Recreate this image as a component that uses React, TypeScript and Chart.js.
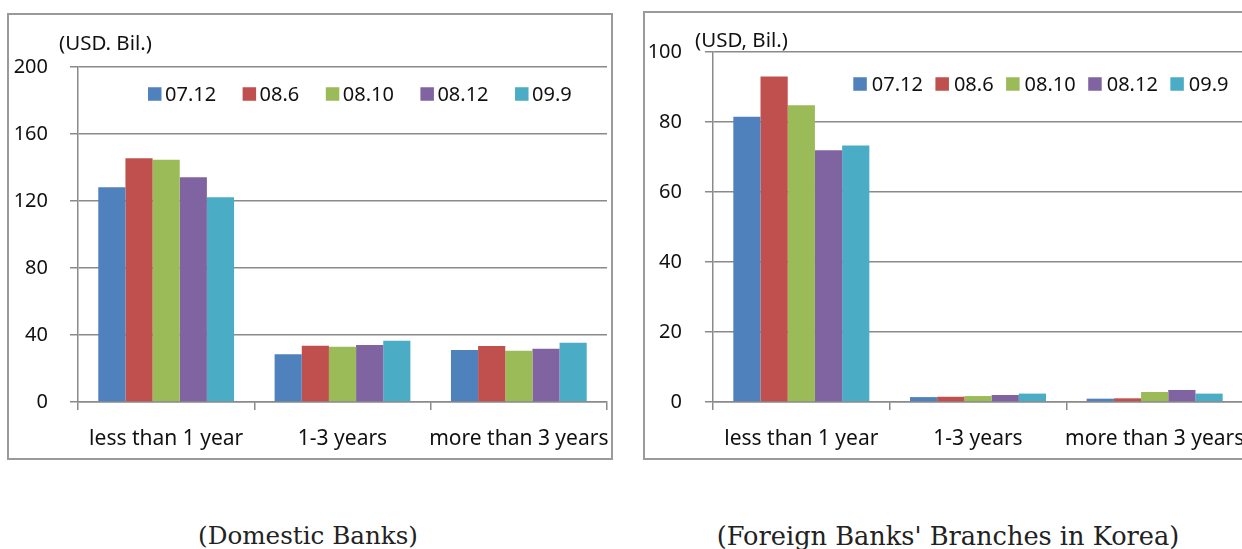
import React, { useEffect, useRef } from "react";
import { Chart, registerables } from "chart.js";

Chart.register(...registerables);

const categories = ["less than 1 year", "1-3 years", "more than 3 years"];
const seriesLabels = ["07.12", "08.6", "08.10", "08.12", "09.9"];
const seriesColors = ["#4F81BD", "#C0504D", "#9BBB59", "#8064A2", "#4BACC6"];

// Domestic banks (USD bil.)
const dom0712 = [128.2, 28.5, 31.0];
const dom0806 = [145.5, 33.6, 33.4];
const dom0810 = [144.7, 33.0, 30.6];
const dom0812 = [134.2, 34.0, 31.8];
const dom0909 = [122.2, 36.6, 35.4];

// Foreign banks' branches in Korea (USD bil.)
const for0712 = [81.5, 1.4, 0.95];
const for0806 = [93.0, 1.5, 1.05];
const for0810 = [84.8, 1.7, 2.86];
const for0812 = [71.9, 2.0, 3.44];
const for0909 = [73.3, 2.4, 2.4];

const domTicks = [0, 40, 80, 120, 160, 200];
const forTicks = [0, 20, 40, 60, 80, 100];

const captionLeft = "(Domestic Banks)";
const captionRight = "(Foreign Banks' Branches in Korea)";

const FONT = "'Noto Sans', sans-serif";
const SERIF = "'DejaVu Serif', serif";
const GRID = "#8a8a8a";

type Cfg = {
  series: number[][];
  max: number;
  step: number;
  unit: string;
  yWidth: number;
  padTop: number;
  padRight: number;
  tickPad: number;
  legendX: number;
  legendY: number;
  legendGapText: number;
  legendGapItem: number;
  unitX: number;
  unitY: number;
};

function makeChart(canvas: HTMLCanvasElement, c: Cfg) {
  const legendPlugin = {
    id: "customLegend",
    afterDraw(chart: any) {
      const ctx = chart.ctx;
      ctx.save();
      ctx.font = `20px ${FONT}`;
      ctx.textBaseline = "middle";
      ctx.textAlign = "left";
      let x = c.legendX;
      const box = 13.5;
      chart.data.datasets.forEach((ds: any) => {
        ctx.fillStyle = ds.backgroundColor;
        ctx.fillRect(x, c.legendY - box / 2, box, box);
        x += box + c.legendGapText;
        ctx.fillStyle = "#111";
        ctx.fillText(ds.label, x, c.legendY + 1);
        x += ctx.measureText(ds.label).width + c.legendGapItem;
      });
      ctx.font = `20.5px ${FONT}`;
      ctx.textBaseline = "middle";
      ctx.fillText(c.unit, c.unitX, c.unitY);
      ctx.restore();
    },
  };

  return new Chart(canvas, {
    type: "bar",
    data: {
      labels: categories,
      datasets: seriesLabels.map((l, i) => ({
        label: l,
        data: c.series[i],
        backgroundColor: seriesColors[i],
        borderWidth: 0,
        categoryPercentage: 0.77,
        barPercentage: 1,
      })),
    },
    options: {
      animation: false,
      responsive: false,
      maintainAspectRatio: false,
      layout: { padding: { top: c.padTop, right: c.padRight, left: 0, bottom: 0 } },
      plugins: { legend: { display: false }, tooltip: { enabled: false } },
      scales: {
        x: {
          grid: {
            offset: true,
            drawOnChartArea: false,
            color: GRID,
            lineWidth: 1.5,
            tickLength: 8,
          },
          border: { color: GRID, width: 1.5 },
          ticks: { color: "#111", font: { family: FONT, size: 21 }, padding: 16, maxRotation: 0, autoSkip: false },
          afterFit: (s: any) => {
            s.height = 68;
            s.paddingLeft = 0;
            s.paddingRight = 0;
          },
        },
        y: {
          min: 0,
          max: c.max,
          ticks: { stepSize: c.step, color: "#111", font: { family: FONT, size: 20 }, padding: c.tickPad },
          grid: { color: GRID, lineWidth: 1.5, tickLength: 8 },
          border: { color: GRID, width: 1.5 },
          afterFit: (s: any) => {
            s.width = c.yWidth;
          },
        },
      },
    },
    plugins: [legendPlugin],
  });
}

function ChartBox(props: { cfg: Cfg; left: number; width: number }) {
  const ref = useRef<HTMLCanvasElement>(null);
  useEffect(() => {
    const ch = makeChart(ref.current!, props.cfg);
    return () => ch.destroy();
  }, []);
  return (
    <canvas
      ref={ref}
      width={props.width}
      height={470}
      style={{ position: "absolute", left: props.left, top: 0, width: props.width, height: 470 }}
    />
  );
}

function Caption(props: { text: string; center: number; target: number }) {
  const ref = useRef<HTMLSpanElement>(null);
  useEffect(() => {
    const el = ref.current!;
    el.style.fontSize = "20px";
    const w = el.getBoundingClientRect().width;
    if (w > 0) {
      const size = (20 * props.target) / w;
      el.style.fontSize = `${size}px`;
    }
  }, []);
  return (
    <div
      style={{
        position: "absolute",
        left: props.center - 300,
        width: 600,
        top: 520,
        textAlign: "center",
        lineHeight: "32px",
        whiteSpace: "nowrap",
      }}
    >
      <span ref={ref} style={{ fontFamily: SERIF, color: "#222", fontSize: 21 }}>
        {props.text}
      </span>
    </div>
  );
}

export default function App() {
  const domCfg: Cfg = {
    series: [dom0712, dom0806, dom0810, dom0812, dom0909],
    max: domTicks[domTicks.length - 1],
    step: domTicks[1] - domTicks[0],
    unit: "(USD. Bil.)",
    yWidth: 78,
    padTop: 67,
    padRight: 13,
    tickPad: 22,
    legendX: 148,
    legendY: 94,
    legendGapText: 3.5,
    legendGapItem: 26.5,
    unitX: 59,
    unitY: 44,
  };
  const forCfg: Cfg = {
    series: [for0712, for0806, for0810, for0812, for0909],
    max: forTicks[forTicks.length - 1],
    step: forTicks[1] - forTicks[0],
    unit: "(USD, Bil.)",
    yWidth: 83,
    padTop: 52,
    padRight: 27,
    tickPad: 23,
    legendX: 853.3 - 630,
    legendY: 84,
    legendGapText: 5,
    legendGapItem: 12.5,
    unitX: 695 - 630,
    unitY: 41,
  };
  return (
    <div
      style={{
        position: "fixed",
        left: 0,
        top: 0,
        width: 1242,
        height: 549,
        overflow: "hidden",
        background: "#fff",
      }}
    >
      <ChartBox cfg={domCfg} left={0} width={620} />
      <ChartBox cfg={forCfg} left={630} width={640} />
      <div
        style={{
          position: "absolute",
          left: 7,
          top: 13,
          width: 606,
          height: 447,
          border: "2px solid #9a9a9a",
          boxSizing: "border-box",
          pointerEvents: "none",
        }}
      />
      <div
        style={{
          position: "absolute",
          left: 643,
          top: 11,
          width: 620,
          height: 449,
          border: "2px solid #9a9a9a",
          boxSizing: "border-box",
          pointerEvents: "none",
        }}
      />
      <Caption text={captionLeft} center={308} target={220} />
      <Caption text={captionRight} center={948} target={463} />
    </div>
  );
}
